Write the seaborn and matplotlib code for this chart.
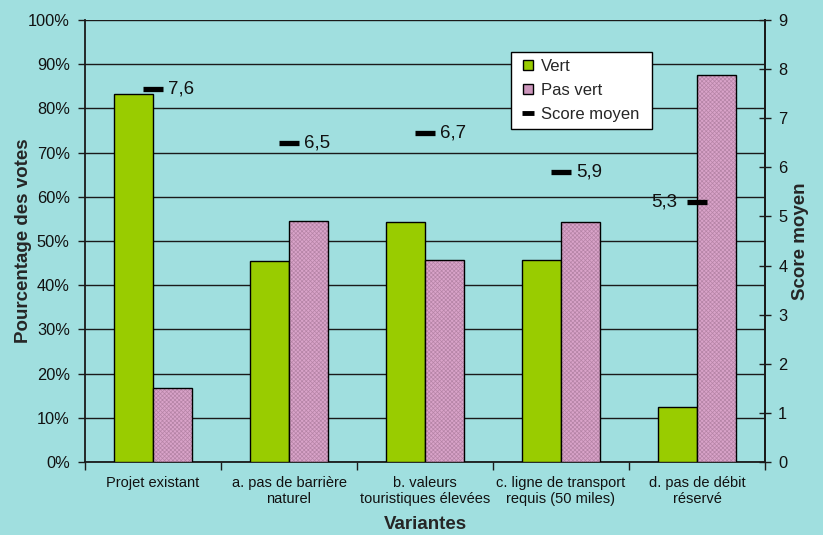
import matplotlib
matplotlib.use("Agg")
import matplotlib.pyplot as plt
import seaborn as sns
import pandas as pd
from matplotlib.patches import Rectangle
from matplotlib.lines import Line2D
from matplotlib.ticker import PercentFormatter, FixedLocator

# --- data ---
categories = [
    "Projet existant",
    "a. pas de barrière\nnaturel",
    "b. valeurs\ntouristiques élevées",
    "c. ligne de transport\nrequis (50 miles)",
    "d. pas de débit\nréservé",
]
vert = [0.833, 0.455, 0.542, 0.458, 0.125]
pas_vert = [0.167, 0.545, 0.458, 0.542, 0.875]
score_moyen = [7.6, 6.5, 6.7, 5.9, 5.3]
score_labels = ["7,6", "6,5", "6,7", "5,9", "5,3"]
series_names = ["Vert", "Pas vert"]

# --- style ---
BG = "#A0DFDF"
GREEN = "#99CC00"
PINK = "#D9A3C9"
PINK_HATCH = "#B584A6"

sns.set_theme(style="white")
plt.rcParams["font.family"] = ["Liberation Sans", "DejaVu Sans"]
plt.rcParams["hatch.linewidth"] = 0.5

df = pd.DataFrame({
    "Variante": categories * 2,
    "Serie": [series_names[0]] * len(categories) + [series_names[1]] * len(categories),
    "Part": vert + pas_vert,
})
scores = pd.DataFrame({"Variante": categories, "Score": score_moyen})

fig = plt.figure(figsize=(8.23, 5.35), dpi=100, facecolor=BG)
ax = fig.add_axes([0.1033, 0.1364, 0.8262, 0.8262])
ax.set_facecolor(BG)

sns.barplot(
    data=df, x="Variante", y="Part", hue="Serie", order=categories,
    hue_order=series_names, palette=[GREEN, PINK], width=0.575, gap=0,
    edgecolor="black", linewidth=1.0, errorbar=None, legend=False,
    saturation=1, ax=ax, zorder=3,
)

# textured fill for the "Pas vert" bars: hatch in a darker pink, black outline on top
pink_bars = [p for p in ax.patches if isinstance(p, Rectangle)][len(categories):2 * len(categories)]
for p in pink_bars:
    p.set_edgecolor(PINK_HATCH)
    p.set_hatch("xxxxxxxx")
    p.set_linewidth(0)
    ax.add_patch(Rectangle(p.get_xy(), p.get_width(), p.get_height(), fill=False,
                           edgecolor="black", linewidth=1.0, zorder=4))

ax.set_ylim(0, 1)
ax.set_xlim(-0.5, len(categories) - 0.5)
ax.yaxis.set_major_locator(FixedLocator([i / 10 for i in range(11)]))
ax.yaxis.set_major_formatter(PercentFormatter(1.0, decimals=0))
ax.grid(axis="y", color="#1a1a1a", linewidth=1.0, zorder=0)
ax.set_axisbelow(True)

ax.spines["top"].set_visible(False)
for side in ["left", "bottom", "right"]:
    ax.spines[side].set_color("#1a1a1a")
    ax.spines[side].set_linewidth(1.3)

ax.tick_params(axis="y", which="major", direction="out", length=5, width=1,
               color="#1a1a1a", pad=6, labelsize=11.8, labelcolor="#111111", left=True)
ax.tick_params(axis="x", which="major", length=0, pad=10, labelsize=10.5,
               labelcolor="#111111")
ax.xaxis.set_minor_locator(FixedLocator([i - 0.5 for i in range(len(categories) + 1)]))
ax.tick_params(axis="x", which="minor", direction="out", length=6, width=1,
               color="#1a1a1a", bottom=True)
ax.set_xlabel("Variantes", fontsize=13.5, fontweight="bold", labelpad=7)
ax.set_ylabel("Pourcentage des votes", fontsize=13.5, fontweight="bold", labelpad=-3)

# secondary axis: mean score
ax2 = ax.twinx()
sns.pointplot(
    data=scores, x="Variante", y="Score", order=categories, color="black",
    markers="_", linestyles="none", errorbar=None, ax=ax2,
    markersize=14.5, markeredgewidth=3.8, zorder=6,
)
ax2.set_ylim(0, 9)
ax2.set_xlim(-0.5, len(categories) - 0.5)
ax2.yaxis.set_major_locator(FixedLocator(range(10)))
ax2.tick_params(axis="y", direction="inout", length=9, width=1, color="#1a1a1a",
                pad=5, labelsize=11.8, labelcolor="#111111", right=True)
ax2.set_ylabel("Score moyen", fontsize=13.5, fontweight="bold", labelpad=3.5)
for side in ["top", "left", "bottom"]:
    ax2.spines[side].set_visible(False)
ax2.spines["right"].set_color("#1a1a1a")
ax2.spines["right"].set_linewidth(1.3)
ax2.grid(False)

for i, (s, lab) in enumerate(zip(score_moyen, score_labels)):
    if i == len(categories) - 1:
        ax2.annotate(lab, (i, s), xytext=(-14, 0), textcoords="offset points",
                     ha="right", va="center", fontsize=13.5, color="#111111")
    else:
        ax2.annotate(lab, (i, s), xytext=(11, 0), textcoords="offset points",
                     ha="left", va="center", fontsize=13.5, color="#111111")

handles = [
    Line2D([], [], marker="s", linestyle="none", markersize=7.5,
           markerfacecolor=GREEN, markeredgecolor="black", markeredgewidth=1.0),
    Line2D([], [], marker="s", linestyle="none", markersize=7.5,
           markerfacecolor="#CC96BC", markeredgecolor="black", markeredgewidth=1.0),
    Line2D([], [], color="black", marker="_", linestyle="none",
           markersize=8, markeredgewidth=3.5),
]
leg = ax2.legend(
    handles, ["Vert", "Pas vert", "Score moyen"], loc="upper left",
    bbox_to_anchor=(0.626, 0.928, 0.2075, 0.0), mode="expand", borderaxespad=0,
    fancybox=False, framealpha=1, facecolor="white", edgecolor="black", fontsize=12,
    handlelength=1.3, handletextpad=0.1, labelspacing=0.55, borderpad=0.4,
)
leg.get_frame().set_linewidth(1.0)
leg.set_zorder(10)

fig.savefig("out.png", dpi=100, facecolor=BG)
